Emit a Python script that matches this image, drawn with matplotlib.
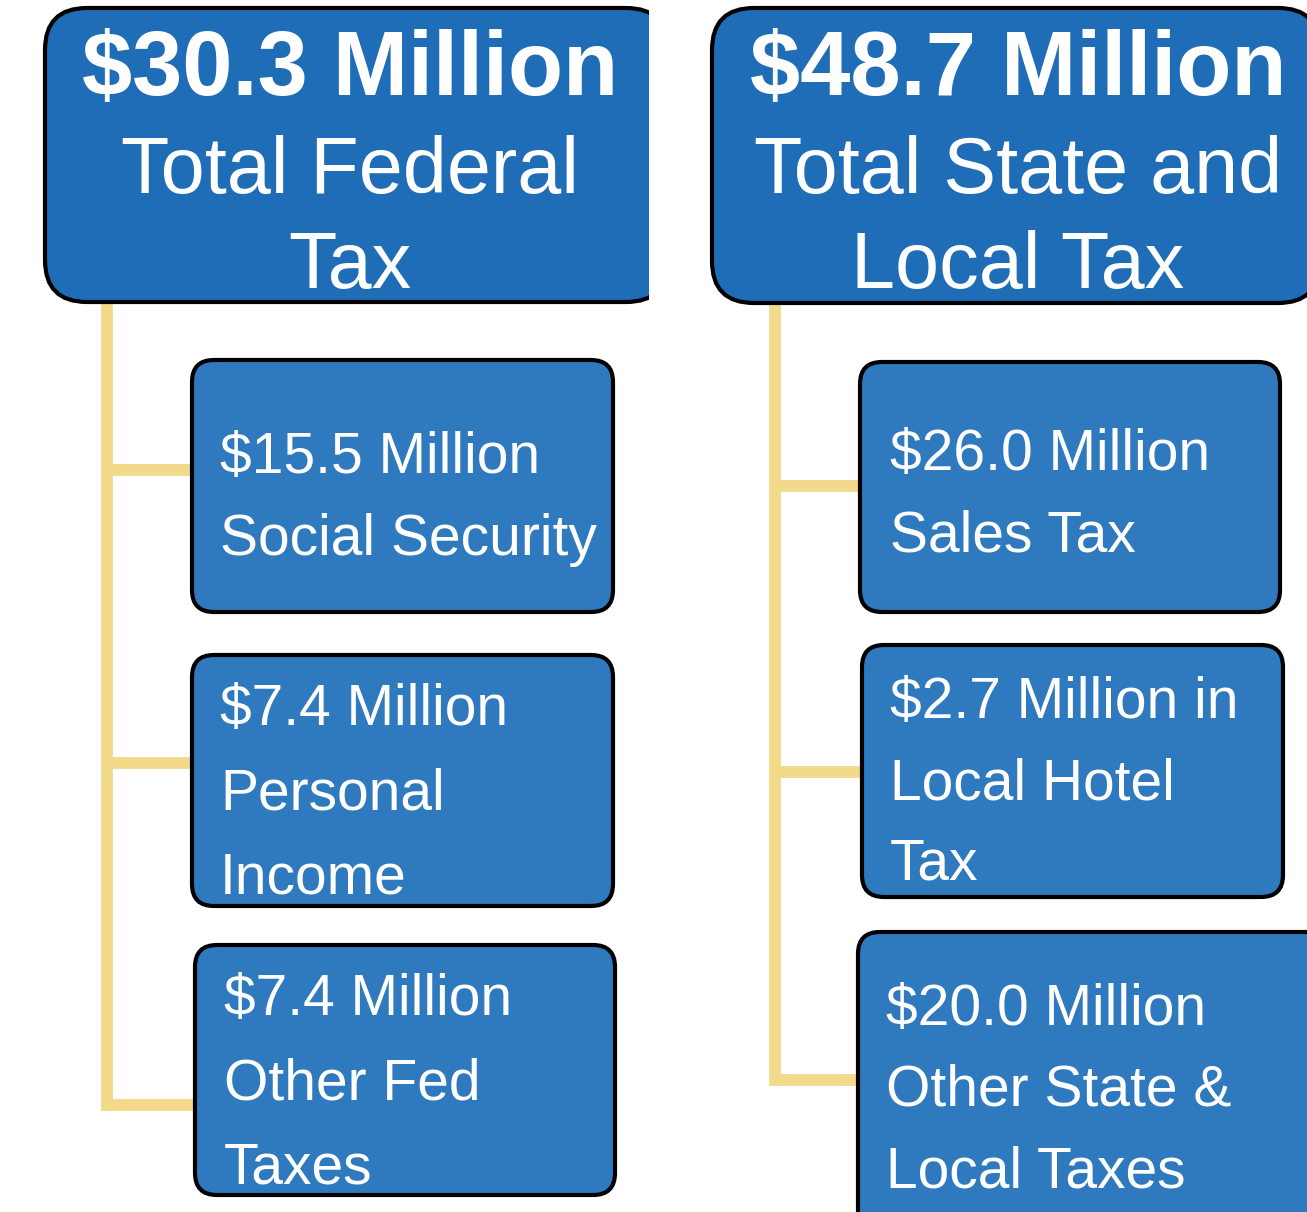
import matplotlib
matplotlib.use("Agg")
import matplotlib.pyplot as plt
from matplotlib import font_manager
from matplotlib.patches import FancyBboxPatch, Rectangle

# Data
totals = [30.3, 48.7]
total_labels = [["Total Federal", "Tax"], ["Total State and", "Local Tax"]]
fed_values = [15.5, 7.4, 7.4]
fed_labels = [["Social Security"], ["Personal", "Income"], ["Other Fed", "Taxes"]]
state_values = [26.0, 2.7, 20.0]
state_suffix = ["", " in", ""]
state_labels = [["Sales Tax"], ["Local Hotel", "Tax"], ["Other State &", "Local Taxes"]]

W, H = 1307, 1212
HEAD_FILL = "#1f6db6"
CHILD_FILL = "#2f79bf"
LINK = "#f3d98a"

names = {f.name for f in font_manager.fontManager.ttflist}
narrow = "Liberation Sans Narrow" in names
child_family = ["Liberation Sans Narrow", "Liberation Sans", "DejaVu Sans"] if narrow else ["Liberation Sans", "DejaVu Sans"]
child_size = 50 if narrow else 41
head_family = ["Liberation Sans", "DejaVu Sans"]

fig = plt.figure(figsize=(W / 100, H / 100), dpi=100)
ax = fig.add_axes([0, 0, 1, 1])
ax.set_xlim(0, W)
ax.set_ylim(H, 0)
ax.axis("off")


def box(x0, y0, x1, y1, fill, r, clip=None):
    p = FancyBboxPatch((x0, y0), x1 - x0, y1 - y0,
                       boxstyle=f"round,pad=0,rounding_size={r}",
                       fc=fill, ec="black", lw=3, zorder=2)
    ax.add_patch(p)
    if clip is not None:
        p.set_clip_path(Rectangle(clip[:2], clip[2], clip[3], transform=ax.transData))


# connectors (drawn under the boxes)
links = [
    (107, 302, [470, 763], 1105, 195),
    (775, 303, [486, 772], 1080, 862),
]
for x, ytop, mids, ybot, xend in links:
    ax.plot([x, x, xend], [ytop, ybot, ybot], color=LINK, lw=8.5,
            solid_joinstyle="miter", solid_capstyle="butt", zorder=1)
    for ym in mids:
        ax.plot([x, xend], [ym, ym], color=LINK, lw=8.5, solid_capstyle="butt", zorder=1)

# header boxes
heads = [(45, 8, 668, 302, 350), (712, 8, 1320, 303, 1018)]
for (x0, y0, x1, y1, cx), total, lines in zip(heads, totals, total_labels):
    clip = (0, 0, 649, H) if x1 < 700 else None
    box(x0, y0, x1, y1, HEAD_FILL, 42, clip)
    ax.text(cx, 95, f"${total:.1f} Million", color="white", fontsize=65,
            fontweight="bold", family=head_family, ha="center", va="baseline", zorder=3)
    for i, ln in enumerate(lines):
        ax.text(cx, 193 + 95 * i, ln, color="white", fontsize=57,
                family=head_family, ha="center", va="baseline", zorder=3)

# child boxes: (x0, y0, x1, y1, text x, first baseline, line step)
fed_boxes = [
    (192, 360, 613, 612, 220, 473, 82),
    (192, 655, 613, 906, 220, 725, 84),
    (195, 945, 615, 1195, 224, 1015, 84),
]
state_boxes = [
    (860, 362, 1280, 612, 890, 470, 82),
    (862, 645, 1283, 897, 890, 718, 81),
    (858, 932, 1330, 1240, 886, 1025, 81),
]
children = [(fed_boxes, fed_values, [""] * 3, fed_labels),
            (state_boxes, state_values, state_suffix, state_labels)]
for boxes, vals, sufs, labels in children:
    for (x0, y0, x1, y1, tx, ty, step), v, suf, lines in zip(boxes, vals, sufs, labels):
        box(x0, y0, x1, y1, CHILD_FILL, 22)
        for i, ln in enumerate([f"${v:.1f} Million{suf}"] + lines):
            ax.text(tx, ty + step * i, ln, color="white", fontsize=child_size,
                    family=child_family, ha="left", va="baseline", zorder=3)

fig.savefig("out.png", dpi=100, facecolor="white")
